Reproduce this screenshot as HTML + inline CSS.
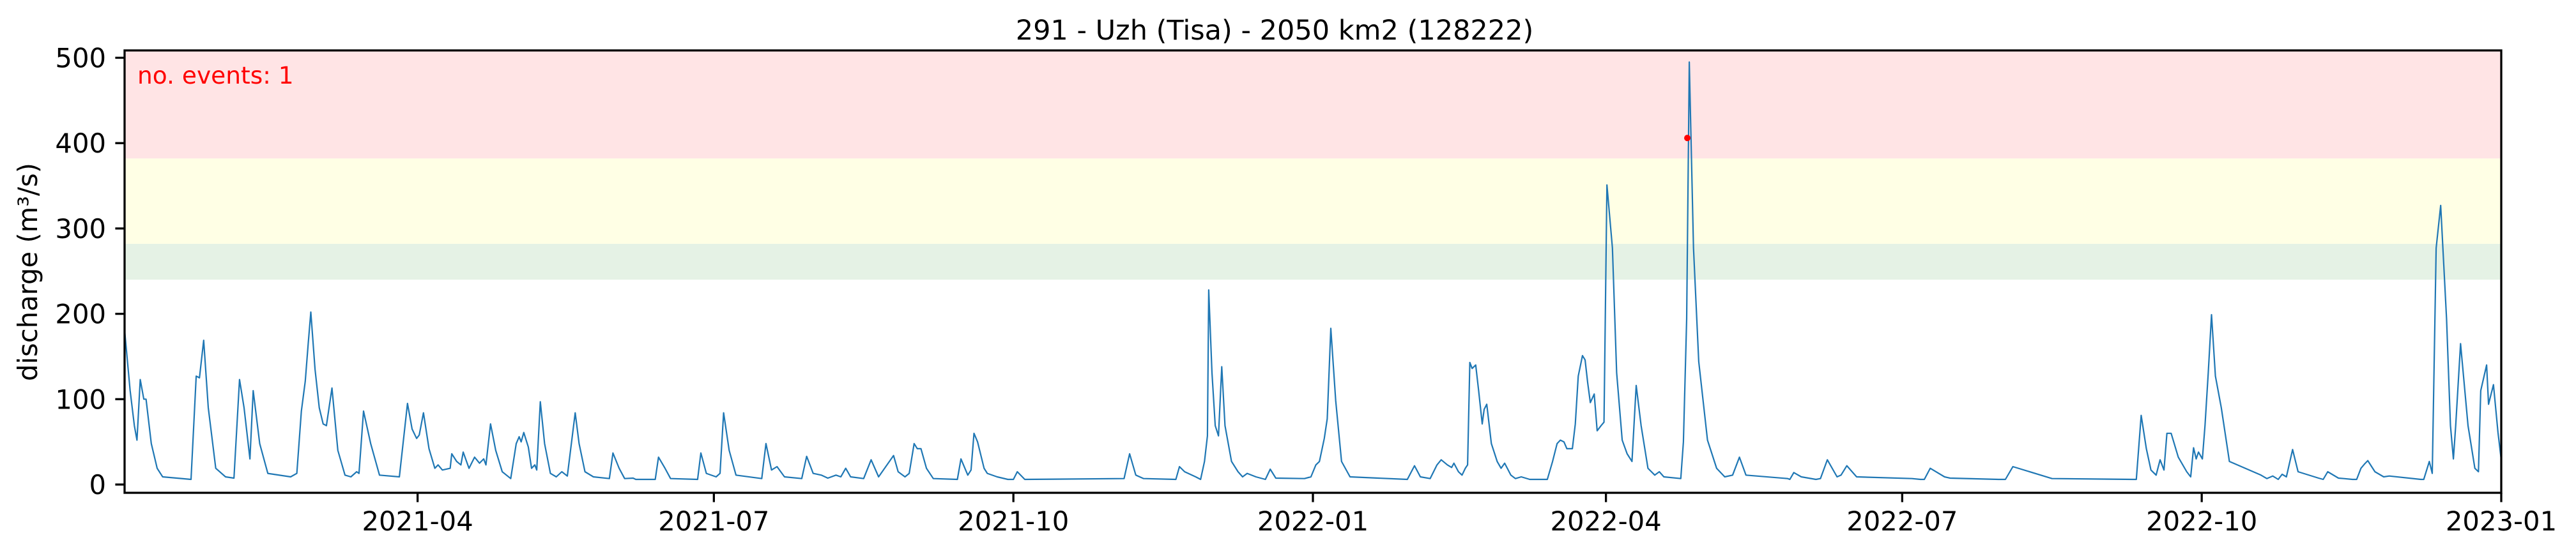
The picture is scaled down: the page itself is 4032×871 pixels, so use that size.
<!DOCTYPE html>
<html><head><meta charset="utf-8">
<style>
html,body{margin:0;padding:0;background:#fff;}
svg{display:block;font-family:"DejaVu Sans","Liberation Sans",sans-serif;}
</style></head>
<body>
<svg id="chart" width="4032" height="871" viewBox="0 0 4032 871" xmlns="http://www.w3.org/2000/svg">
  <text x="1995" y="62" font-size="43" text-anchor="middle" fill="#000">291 - Uzh (Tisa) - 2050 km2 (128222)</text>
  <g id="bands"></g>
  <g id="plot"></g>
  <g id="axes"></g>
  <text x="215" y="131" font-size="37.5" fill="#ff0000">no. events: 1</text>
  <text transform="translate(58,426) rotate(-90)" font-size="41.7" text-anchor="middle" fill="#000">discharge (m³/s)</text>
</svg>
<script>
// ---- data ----
const startDate = "2021-01-01";
const dayOffsets = [0,1.7,3,3.8,4.8,5.9,6.6,8.2,10,11.7,20.4,22,23,24.3,25.7,28,31,33.6,35.3,36.7,38.5,39.5,41.5,44,51,52.9,54.3,55.5,56.4,57.2,58.5,59.8,61,62,63.7,65.5,67.7,69.5,71.3,72,73.4,75.6,78.3,84.4,86.9,88.3,89.7,90.5,91.8,93.5,95.3,96.3,97.6,100,100.5,102,103.3,104,105.8,107.5,109,110.3,111,112.4,114,116,118.6,120.3,121.2,121.8,122.6,124,125,126,126.6,127.7,129,130.8,132.6,134.3,136,138.4,139.6,141.4,144,148.9,150,151.9,153.6,156.2,157,163,164,166,167.7,176,177,178.7,181.7,182.9,184,185.7,187.8,195.7,197,198.7,200.4,202.7,208,209.5,211.5,214,216,218.5,220,221.5,223,227,229.3,231.6,236.2,237.6,239.7,241,242.5,243.5,244.6,246.3,248.4,255.8,256.9,259,260,260.9,262,264,265,268,271.3,273,274.2,276.5,307,308.7,310.6,313,322.9,324,325.6,329,330.5,331.7,332.6,333,334,335,336,337,338,340,342,343.4,344.8,347.5,350.4,351.9,353.6,362.4,364.4,365.9,367,368.5,369.4,370.5,372,373.8,376.4,394,396.2,398,401,403.1,404.4,406.3,407.6,408.3,409.7,410.8,411.8,412.5,413.2,413.9,415,415.9,417,417.6,418.4,419.8,421.6,422.8,423.9,425.8,427.2,429,431.6,437,438.6,440,441,442.1,443,444.7,445.6,446.5,447.8,448.6,449.4,450.2,451.4,452.3,453.5,454.4,455.3,457,458.3,460,461.5,463,464.3,465.8,467.9,470,471.4,472.8,478,478.8,479.8,480.6,481.9,483.5,486.2,489,491.5,493.9,496,498,510.8,511.5,512.7,515,519.5,520.9,523,526,527.2,529,532,549,551.6,552.8,554.6,559,560.7,575.6,577.7,580,592,616.8,617.9,619.4,621,622.4,624,625.2,626.4,627.3,628.6,630.8,633.4,634.6,635.5,636.3,637,638.2,639,640,641,642.2,644,646.5,656.2,658,659.8,661.5,662.7,664,665.9,667.6,673.9,675.3,676.7,680,681.6,684.3,685.6,686.9,688,689,691.2,693.9,695.6,705.3,706.2,707.9,708.8,710,711.4,713.2,714.4,715.3,716,717.5,719.8,721.9,723,723.7,725.5,726.1,727.6,729,729.9];
const discharge = [181,110,69,52,123,100,100,48,19,9,6,127,125,169,90,19,9,7.5,123,90,30,110,48,13,9,13,86,121,165,202,135,90,71,69,113,40,11,9,15,13,86,48,11,9,95,65,54,58,84,42,19,23,17,19,36,27,23,38,19,32,25,30,23,71,40,15,7,48,56,50,61,44,19,23,17,97,48,13,9,15,10,84,48,15,9,7,37,19,7,7.5,6,6,32,19,7,6,37,13,9,13,84,40,11,7,48,17,21,9,7,33,13,11,7.5,11,9,19,9,7,29,9,34,15,9,13,48,42,42,19,7,6,30,11,17,60,50,19,13,9,6,6,15,6,7,36,11,7,6,21,15,9,6,27,57,228,131,69,57,138,69,27,15,9,13,9,6,18,7.5,7,9,23,27,54,77,183,98,27,9,6,22,9,7,23,29,23,20,25,15,11,19,23,143,136,140,110,71,88,94,48,27,19,25,11,7,9,6,6,27,48,52,50,42,42,71,127,151,146,119,96,106,63,69,73,351,277,131,52,36,27,116,69,19,11,15,9,7,50,194,495,277,144,52,19,9,11,32,11,7,6,14,9,6,7,29,9,11,22,9,7,6,6,19,9,7.5,6,6,21,7,6,6,81,42,17,11,29,17,60,60,32,15,9,43,30,38,30,69,131,199,127,90,27,11,7,10,6,12,9,41,15,7.5,6,15,7.5,7,6,6,19,24,28,15,9,10,6,6,27,13,277,327,194,69,30,69,165,69,19,15,110,140,94,117,61,32,23];
const eventDays = [480];
const eventValues = [406];
const yTicks = [0,100,200,300,400,500];
const xTickLabels = ["2021-04","2021-07","2021-10","2022-01","2022-04","2022-07","2022-10","2023-01"];
const bandLimits = [240,282,382];   // green-low, yellow-low, red-low
const domainStart = "2021-01-01", domainEnd = "2023-01-01";
const yMin = -9.7, yMax = 508.6;

// ---- layout ----
const L=195, R=3915, T=79, B=772;
const DAY=86400000;
const t0=Date.parse(startDate), d0=Date.parse(domainStart), d1=Date.parse(domainEnd);
function xDate(ms){return L+(ms-d0)/(d1-d0)*(R-L);}
function xDay(d){return xDate(t0+d*DAY);}
function y(v){return B-(v-yMin)/(yMax-yMin)*(B-T);}
const NS="http://www.w3.org/2000/svg";
function mk(tag,attrs,parent){const e=document.createElementNS(NS,tag);for(const k in attrs)e.setAttribute(k,attrs[k]);parent.appendChild(e);return e;}

// bands
const bands=document.getElementById('bands');
const bandTops=[bandLimits[1],bandLimits[2],yMax];
const bandColors=["#e5f2e5","#ffffe5","#ffe4e5"];
const bandNames=["green-band","yellow-band","red-band"];
for(let i=0;i<3;i++){
  const r=mk('rect',{x:L,y:y(bandTops[i]),width:R-L,height:y(bandLimits[i])-y(bandTops[i]),fill:bandColors[i]},bands);
  
  
}

// line
const plot=document.getElementById('plot');
let d='';
for(let i=0;i<dayOffsets.length;i++){d+=(i?'L':'M')+xDay(dayOffsets[i]).toFixed(1)+' '+y(discharge[i]).toFixed(1);}
const line=mk('path',{d:d,fill:'none',stroke:'#1f77b4','stroke-width':2.2,'stroke-linejoin':'round'},plot);


for(let i=0;i<eventDays.length;i++){
  const c=mk('circle',{cx:xDay(eventDays[i]),cy:y(eventValues[i]),r:5,fill:'#ff0000'},plot);
  
  
}

// axes
const axes=document.getElementById('axes');
const frame=mk('rect',{x:L,y:T,width:R-L,height:B-T,fill:'none',stroke:'#000','stroke-width':3.3},axes);


yTicks.forEach(v=>{
  const yy=y(v);
  const tk=mk('line',{x1:L-14.6,x2:L,y1:yy,y2:yy,stroke:'#000','stroke-width':3.3},axes);
  
  
  const tx=mk('text',{x:L-29,y:yy+15,'font-size':41.7,'text-anchor':'end',fill:'#000'},axes);
  tx.textContent=v;
  
  
});
xTickLabels.forEach(s=>{
  const xx=xDate(Date.parse(s+"-01"));
  const tk=mk('line',{x1:xx,x2:xx,y1:B,y2:B+14.6,stroke:'#000','stroke-width':3.3},axes);
  
  
  const tx=mk('text',{x:xx,y:831,'font-size':41.7,'text-anchor':'middle',fill:'#000'},axes);
  tx.textContent=s;
  
  
});
</script>
</body></html>
